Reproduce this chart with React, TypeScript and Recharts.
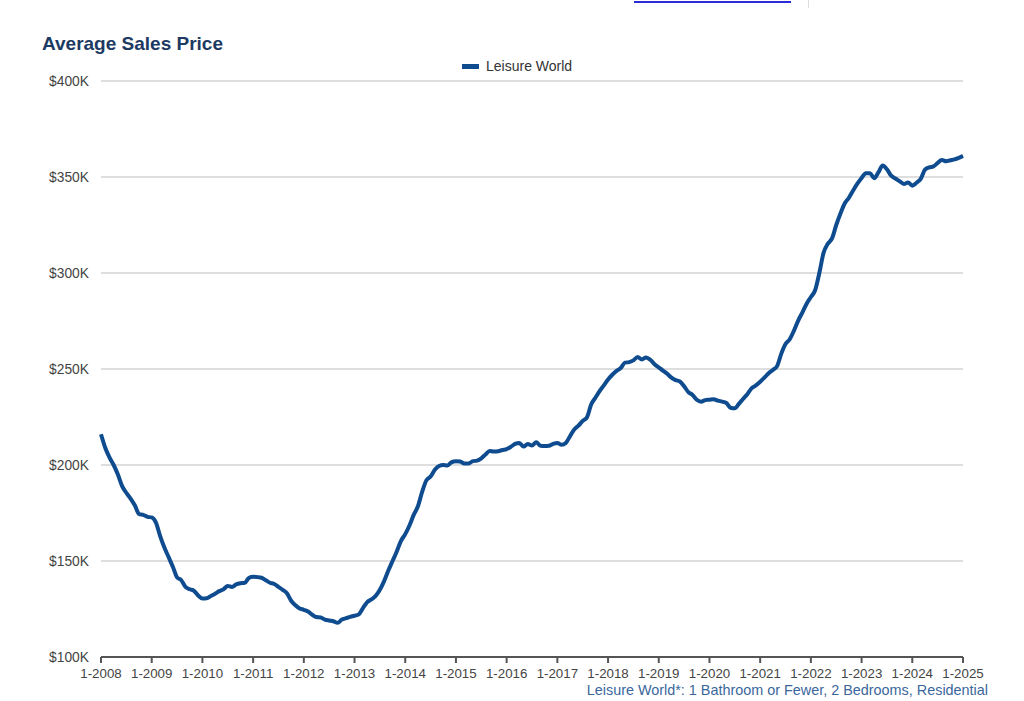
import React from 'react';
import { LineChart, Line, XAxis, YAxis, CartesianGrid } from 'recharts';

// monthly average sales price, $K, Jan 2008 .. Jan 2025
const startYear = 2008;
const prices: number[] = [
  // 2008
  216, 209, 204, 200, 195, 189, 185.5, 182.5, 179, 174.5, 174, 173,
  // 2009
  172.7, 170, 163, 157, 152, 147, 141.5, 140, 136.5, 135.3, 134.5, 132,
  // 2010
  130.5, 130.6, 131.8, 133, 134.3, 135.3, 137, 136.5, 137.8, 138.4, 138.6, 141.2,
  // 2011
  141.8, 141.6, 141.3, 140, 138.7, 138, 136.5, 135, 133.2, 129.3, 127, 125.3,
  // 2012
  124.6, 123.7, 122, 120.8, 120.6, 119.5, 119, 118.6, 117.8, 119.5, 120.2, 120.9,
  // 2013
  121.5, 122.2, 125.5, 128.6, 130, 131.8, 135, 139.5, 145, 150, 155, 160.5,
  // 2014
  164, 168.5, 174, 178.5, 186, 192, 194, 197.5, 199.5, 200, 199.8, 201.5,
  // 2015
  202, 201.8, 200.8, 200.8, 202, 202.3, 203.5, 205.5, 207.3, 207, 207.2, 207.8,
  // 2016
  208.3, 209.5, 211, 211.5, 209.6, 211, 210.2, 211.8, 210, 209.9, 210, 211,
  // 2017
  211.5, 210.5, 211.5, 215, 218.5, 220.5, 223, 224.8, 231.5, 235, 238.5, 241.5,
  // 2018
  244.5, 247, 249, 250.5, 253.3, 253.6, 254.5, 256.3, 255, 256, 254.8, 252.5,
  // 2019
  250.8, 249.2, 247.5, 245.5, 244.2, 243.5, 241, 238, 236.5, 234, 233, 233.8,
  // 2020
  234, 234.2, 233.5, 233, 232.3, 229.8, 229.5, 232, 234.5, 237, 240, 241.5,
  // 2021
  243.4, 245.5, 247.8, 249.5, 251.5, 258, 263, 265.5, 270, 275.2, 279.5, 284,
  // 2022
  287.5, 291, 300, 310.5, 315.2, 318, 325, 331, 336.2, 339.2, 343, 346.5,
  // 2023
  349.5, 352, 352, 349.4, 352.5, 356, 354, 350.7, 349.2, 347.8, 346.4, 347.2,
  // 2024
  345.5, 347, 349, 353.8, 355, 355.5, 357.3, 358.9, 358.2, 358.7, 359.2, 360,
  // 2025
  361,
];

const yTicks = [100, 150, 200, 250, 300, 350, 400];
const xTicks = ['1-2008', '1-2009', '1-2010', '1-2011', '1-2012', '1-2013', '1-2014', '1-2015', '1-2016',
  '1-2017', '1-2018', '1-2019', '1-2020', '1-2021', '1-2022', '1-2023', '1-2024', '1-2025'];

const data = prices.map((price, i) => ({
  label: `${(i % 12) + 1}-${startYear + Math.floor(i / 12)}`,
  price,
}));

const font = '"Liberation Sans", Arial, Helvetica, sans-serif';
const lineColor = '#0f4c8f';

export default function App() {
  return (
    <div style={{ position: 'absolute', left: 0, top: 0, width: 1024, height: 701, background: '#fff', fontFamily: font }}>
      {/* cropped link from the page above */}
      <div style={{ position: 'absolute', left: 634, top: 1, width: 157, height: 2, background: '#2b2bd9' }} />
      <div style={{ position: 'absolute', left: 808, top: 0, width: 1, height: 8, background: '#ddd' }} />

      <div style={{ position: 'absolute', left: 42, top: 33, fontSize: 19, fontWeight: 'bold', color: '#1d3a63' }}>
        Average Sales Price
      </div>

      <div style={{ position: 'absolute', left: 462, top: 58, display: 'flex', alignItems: 'center', fontSize: 14, color: '#333' }}>
        <span style={{ display: 'inline-block', width: 17, height: 5, background: lineColor, marginRight: 7 }} />
        Leisure World
      </div>

      <LineChart width={1024} height={701} data={data} margin={{ top: 81, right: 61, left: 41, bottom: 14 }}>
        <CartesianGrid vertical={false} stroke="#bdbdbd" strokeWidth={1} />
        <XAxis
          dataKey="label"
          ticks={xTicks}
          interval={0}
          height={30}
          tickSize={6}
          axisLine={{ stroke: '#555', strokeWidth: 2 }}
          tickLine={{ stroke: '#555', strokeWidth: 2 }}
          tick={{ fill: '#444', fontSize: 13.3, fontFamily: font, dy: 4 }}
        />
        <YAxis
          domain={[100, 400]}
          ticks={yTicks}
          width={60}
          axisLine={false}
          tickLine={false}
          tickFormatter={(v) => `$${v}K`}
          tick={{ fill: '#444', fontSize: 13.8, fontFamily: font, dx: -4 }}
        />
        <Line
          type="monotone"
          dataKey="price"
          stroke={lineColor}
          strokeWidth={4}
          dot={false}
          isAnimationActive={false}
        />
      </LineChart>

      <div style={{ position: 'absolute', right: 36, top: 682, fontSize: 14.4, color: '#3b679c' }}>
        Leisure World*: 1 Bathroom or Fewer, 2 Bedrooms, Residential
      </div>
    </div>
  );
}
